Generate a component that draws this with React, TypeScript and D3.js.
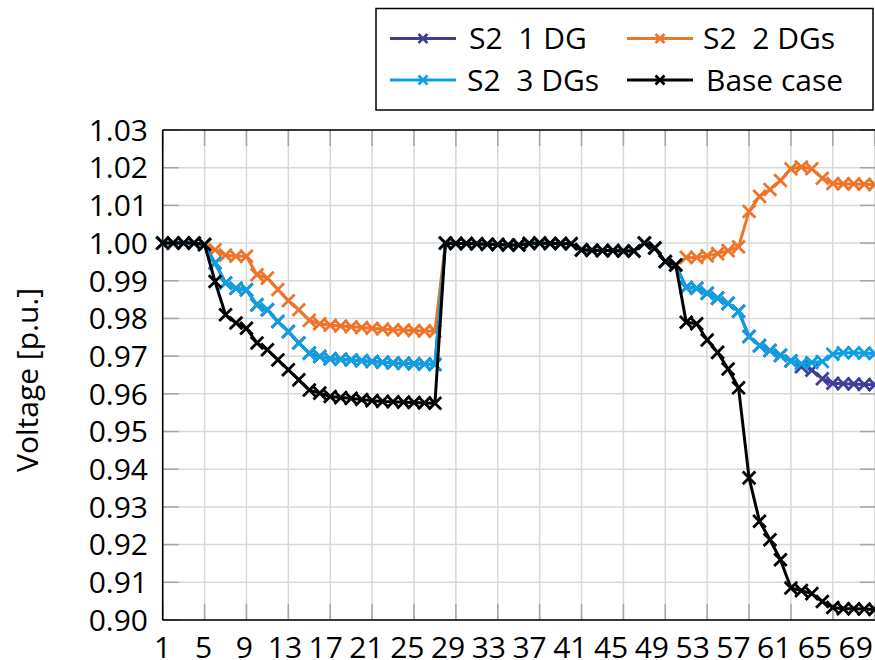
import React from 'react';
import * as d3 from 'd3';

// Bus numbers of the 69-bus feeder
const buses: number[] = d3.range(1, 70);

const xTickLabels: number[] = [1, 5, 9, 13, 17, 21, 25, 29, 33, 37, 41, 45, 49, 53, 57, 61, 65, 69];
const yTickValues: number[] = [0.90, 0.91, 0.92, 0.93, 0.94, 0.95, 0.96, 0.97, 0.98, 0.99, 1.00, 1.01, 1.02, 1.03];

// Bus voltages [p.u.], bus 1 .. bus 69
const baseCase: number[] = [
  1.0000, 1.0000, 1.0000, 1.0000, 0.9996, 0.9898, 0.9810, 0.9788, 0.9774, 0.9735,
  0.9717, 0.9690, 0.9664, 0.9637, 0.9610, 0.9602, 0.9593, 0.9590, 0.9588, 0.9585,
  0.9582, 0.9580, 0.9579, 0.9578, 0.9577, 0.9576, 0.9575, 1.0000, 0.9999, 0.9999,
  0.9998, 0.9997, 0.9996, 0.9995, 0.9995, 0.9999, 1.0000, 0.9999, 0.9999, 0.9998,
  0.9982, 0.9981, 0.9980, 0.9980, 0.9979, 0.9979, 1.0000, 0.9987, 0.9951, 0.9942,
  0.9790, 0.9786, 0.9743, 0.9710, 0.9666, 0.9616, 0.9377, 0.9262, 0.9213, 0.9160,
  0.9085, 0.9078, 0.9070, 0.9049, 0.9033, 0.9030, 0.9030, 0.9029, 0.9028,
];

const s2OneDG: number[] = [
  1.0000, 1.0000, 1.0000, 1.0000, 0.9996, 0.9947, 0.9894, 0.9880, 0.9876, 0.9836,
  0.9823, 0.9792, 0.9765, 0.9735, 0.9708, 0.9699, 0.9693, 0.9692, 0.9690, 0.9688,
  0.9686, 0.9684, 0.9682, 0.9681, 0.9680, 0.9679, 0.9678, 1.0000, 0.9999, 0.9999,
  0.9998, 0.9997, 0.9996, 0.9995, 0.9995, 0.9999, 1.0000, 0.9999, 0.9999, 0.9998,
  0.9982, 0.9981, 0.9980, 0.9980, 0.9979, 0.9979, 1.0000, 0.9987, 0.9951, 0.9942,
  0.9882, 0.9880, 0.9867, 0.9854, 0.9840, 0.9819, 0.9752, 0.9728, 0.9715, 0.9702,
  0.9687, 0.9672, 0.9663, 0.9640, 0.9628, 0.9627, 0.9626, 0.9625, 0.9624,
];

const s2TwoDGs: number[] = [
  1.0000, 1.0000, 1.0000, 1.0000, 0.9996, 0.9982, 0.9968, 0.9965, 0.9965, 0.9916,
  0.9907, 0.9877, 0.9847, 0.9823, 0.9795, 0.9786, 0.9782, 0.9780, 0.9778, 0.9776,
  0.9774, 0.9772, 0.9770, 0.9769, 0.9768, 0.9767, 0.9766, 1.0000, 0.9999, 0.9999,
  0.9998, 0.9997, 0.9996, 0.9995, 0.9995, 0.9999, 1.0000, 0.9999, 0.9999, 0.9998,
  0.9982, 0.9981, 0.9980, 0.9980, 0.9979, 0.9979, 1.0000, 0.9987, 0.9951, 0.9942,
  0.9962, 0.9962, 0.9966, 0.9972, 0.9980, 0.9990, 1.0084, 1.0124, 1.0142, 1.0166,
  1.0197, 1.0202, 1.0197, 1.0172, 1.0158, 1.0157, 1.0157, 1.0156, 1.0155,
];

const s2ThreeDGs: number[] = [
  1.0000, 1.0000, 1.0000, 1.0000, 0.9996, 0.9947, 0.9894, 0.9880, 0.9876, 0.9836,
  0.9823, 0.9792, 0.9765, 0.9735, 0.9708, 0.9699, 0.9693, 0.9692, 0.9690, 0.9688,
  0.9686, 0.9684, 0.9682, 0.9681, 0.9680, 0.9679, 0.9678, 1.0000, 0.9999, 0.9999,
  0.9998, 0.9997, 0.9996, 0.9995, 0.9995, 0.9999, 1.0000, 0.9999, 0.9999, 0.9998,
  0.9982, 0.9981, 0.9980, 0.9980, 0.9979, 0.9979, 1.0000, 0.9987, 0.9951, 0.9942,
  0.9882, 0.9880, 0.9867, 0.9854, 0.9840, 0.9819, 0.9752, 0.9728, 0.9715, 0.9702,
  0.9687, 0.9680, 0.9683, 0.9686, 0.9705, 0.9709, 0.9709, 0.9708, 0.9707,
];

interface Series {
  name: string;
  color: string;
  values: number[];
}

// Drawing order: later series sit on top
const series: Series[] = [
  { name: 'S2\u00A0\u00A01 DG', color: '#3f3d96', values: s2OneDG },
  { name: 'S2\u00A0\u00A02 DGs', color: '#ee7429', values: s2TwoDGs },
  { name: 'S2\u00A0\u00A03 DGs', color: '#0e9fe2', values: s2ThreeDGs },
  { name: 'Base\u00A0case', color: '#000000', values: baseCase },
];

const W = 875;
const H = 660;
const plot = { left: 162.7, right: 874.7, top: 130, bottom: 620 };
const FONT = "'Open Sans', 'Noto Sans', sans-serif";

const x = d3.scaleLinear().domain([1, 69]).range([plot.left, plot.right]);
const y = d3.scaleLinear().domain([0.9, 1.03]).range([plot.bottom, plot.top]);
const xLabelPos = d3.scalePoint<number>().domain(xTickLabels).range([plot.left, 855.7]);

const lineGen = d3
  .line<number>()
  .x((_, i) => x(buses[i]))
  .y((d) => y(d));

const cross = (r: number) => `M${-r},${-r}L${r},${r}M${-r},${r}L${r},${-r}`;

const gridColor = '#d9d9d9';
const tickColor = '#a6a6a6';
const tickLen = 16;

export default function App() {
  const legendItems = [
    { s: series[0], lx: 390, ty: 38.5, tx: 469 },
    { s: series[1], lx: 627, ty: 38.5, tx: 703 },
    { s: series[2], lx: 390, ty: 80, tx: 467 },
    { s: series[3], lx: 627, ty: 80, tx: 706 },
  ];

  return (
    <div style={{ position: 'absolute', left: 0, top: 0 }}>
      <svg width={W} height={H} style={{ display: 'block', background: '#fff' }}>
        {/* grid */}
        <g>
          {yTickValues.map((v) => (
            <line key={`gy${v}`} x1={plot.left} x2={876} y1={y(v)} y2={y(v)} stroke={gridColor} strokeWidth={1.5} />
          ))}
          {xTickLabels.map((b) => (
            <line key={`gx${b}`} x1={x(b)} x2={x(b)} y1={plot.top} y2={plot.bottom} stroke={gridColor} strokeWidth={1.5} />
          ))}
        </g>
        {/* inward tick marks on all four sides */}
        <g stroke={tickColor} strokeWidth={1.5}>
          {yTickValues.map((v) => (
            <g key={`ty${v}`}>
              <line x1={plot.left} x2={plot.left + tickLen} y1={y(v)} y2={y(v)} />
              <line x1={876} x2={876 - tickLen} y1={y(v)} y2={y(v)} />
            </g>
          ))}
          {xTickLabels.map((b) => (
            <g key={`tx${b}`}>
              <line x1={x(b)} x2={x(b)} y1={plot.bottom} y2={plot.bottom - tickLen} />
              <line x1={x(b)} x2={x(b)} y1={plot.top} y2={plot.top + tickLen} />
            </g>
          ))}
        </g>
        {/* frame */}
        <g stroke="#000" strokeWidth={1.6} fill="none">
          <line x1={plot.left} x2={plot.left} y1={plot.top} y2={plot.bottom} />
          <line x1={plot.left} x2={876} y1={plot.bottom} y2={plot.bottom} />
          <line x1={plot.left} x2={876} y1={plot.top} y2={plot.top} />
        </g>
        {/* y tick labels */}
        <g fontFamily={FONT} fontSize={30} fill="#000" textAnchor="end">
          {yTickValues.map((v) => (
            <text key={`ly${v}`} x={148} y={y(v)} dy="0.36em">
              {d3.format('.2f')(v)}
            </text>
          ))}
        </g>
        {/* x tick labels */}
        <g fontFamily={FONT} fontSize={30} fill="#000" textAnchor="middle">
          {xTickLabels.map((b) => (
            <text key={`lx${b}`} x={xLabelPos(b)} y={647} dy="0.36em">
              {b}
            </text>
          ))}
        </g>
        {/* y axis title */}
        <text
          transform={`translate(38,${380}) rotate(-90)`}
          textAnchor="middle"
          fontFamily={FONT}
          fontSize={30}
          fill="#000"
        >
          Voltage [p.u.]
        </text>
        {/* series */}
        {series.map((s) => (
          <g key={s.name}>
            <path d={lineGen(s.values) || ''} fill="none" stroke={s.color} strokeWidth={3} strokeLinejoin="round" />
            {s.values.map((v, i) => (
              <path
                key={i}
                d={cross(6.3)}
                transform={`translate(${x(buses[i])},${y(v)})`}
                stroke={s.color}
                strokeWidth={2.8}
                fill="none"
              />
            ))}
          </g>
        ))}
        {/* legend */}
        <rect x={376} y={8.5} width={497} height={101.5} fill="#fff" stroke="#000" strokeWidth={1.5} />
        {legendItems.map(({ s, lx, ty, tx }) => (
          <g key={`lg${s.name}`}>
            <line x1={lx} x2={lx + 66} y1={ty} y2={ty} stroke={s.color} strokeWidth={3} />
            <path d={cross(4.5)} transform={`translate(${lx + 33},${ty})`} stroke={s.color} strokeWidth={2.6} fill="none" />
            <text x={tx} y={ty} dy="0.36em" fontFamily={FONT} fontSize={30} fill="#000">
              {s.name}
            </text>
          </g>
        ))}
      </svg>
    </div>
  );
}
